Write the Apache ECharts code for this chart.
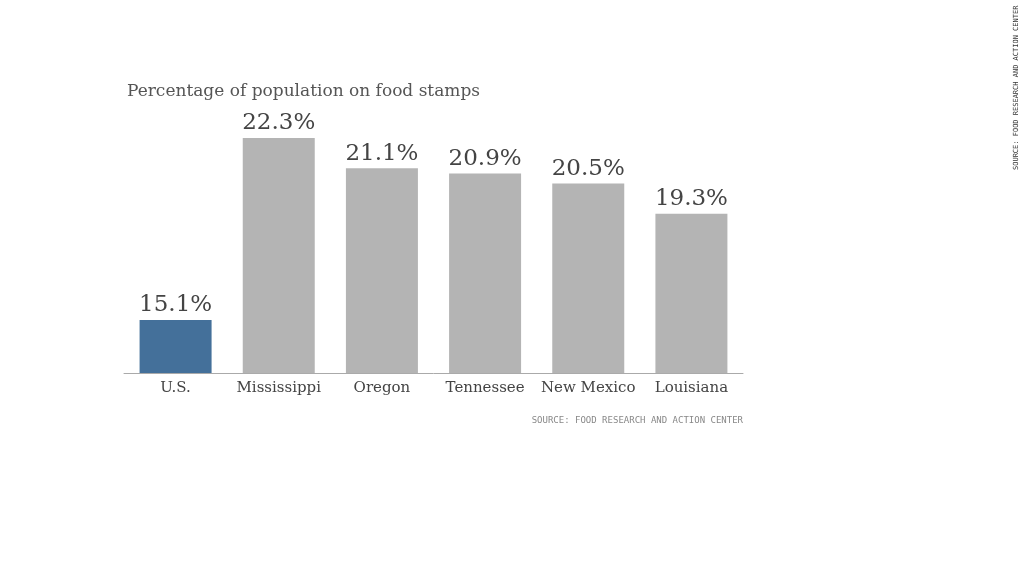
<!DOCTYPE html>
<html><head><meta charset="utf-8">
<script src="https://cdn.jsdelivr.net/npm/echarts@6/dist/echarts.min.js"></script>
<style>html,body{margin:0;padding:0;background:#fff}#c{width:1024px;height:576px}</style>
</head><body><div id="c"></div>
<script>
const categories = ['U.S.', 'Mississippi', 'Oregon', 'Tennessee', 'New Mexico', 'Louisiana'];
const values = [15.1, 22.3, 21.1, 20.9, 20.5, 19.3];
const title = 'Percentage of population on food stamps';
const source = 'SOURCE: FOOD RESEARCH AND ACTION CENTER';

const chart = echarts.init(document.getElementById('c'));
chart.setOption({
  animation: false,
  backgroundColor: '#fff',
  title: {
    text: title, left: 122, top: 78,
    textStyle: { fontFamily: 'DejaVu Serif', fontWeight: 'normal', fontSize: 17, color: '#555' }
  },
  grid: { left: 124, right: 281, top: 138, bottom: 203 },
  xAxis: {
    type: 'category', data: categories,
    axisLine: { lineStyle: { color: '#aaa', width: 1 } },
    axisTick: { show: false },
    axisLabel: { interval: 0, fontFamily: 'DejaVu Serif', fontSize: 15, color: '#444', margin: 8 }
  },
  yAxis: {
    type: 'value', min: 13, max: 22.3, show: false, splitLine: { show: false }
  },
  series: [{
    type: 'bar', barWidth: 72,
    data: values.map((v, i) => ({ value: v, itemStyle: { color: i === 0 ? '#44709a' : '#b4b4b4' } })),
    label: {
      show: true, position: 'top', distance: 3,
      formatter: p => p.value.toFixed(1) + '%',
      fontFamily: 'DejaVu Serif', fontSize: 23, color: '#444'
    }
  }],
  graphic: [
    { type: 'text', right: 281, top: 416,
      style: { text: source, font: '9px "DejaVu Sans Mono"', fill: '#888', textAlign: 'right' } },
    { type: 'text', x: 1013, y: 170, rotation: Math.PI / 2,
      style: { text: source, font: '7px "DejaVu Sans Mono"', fill: '#333' } }
  ]
});
</script></body></html>
